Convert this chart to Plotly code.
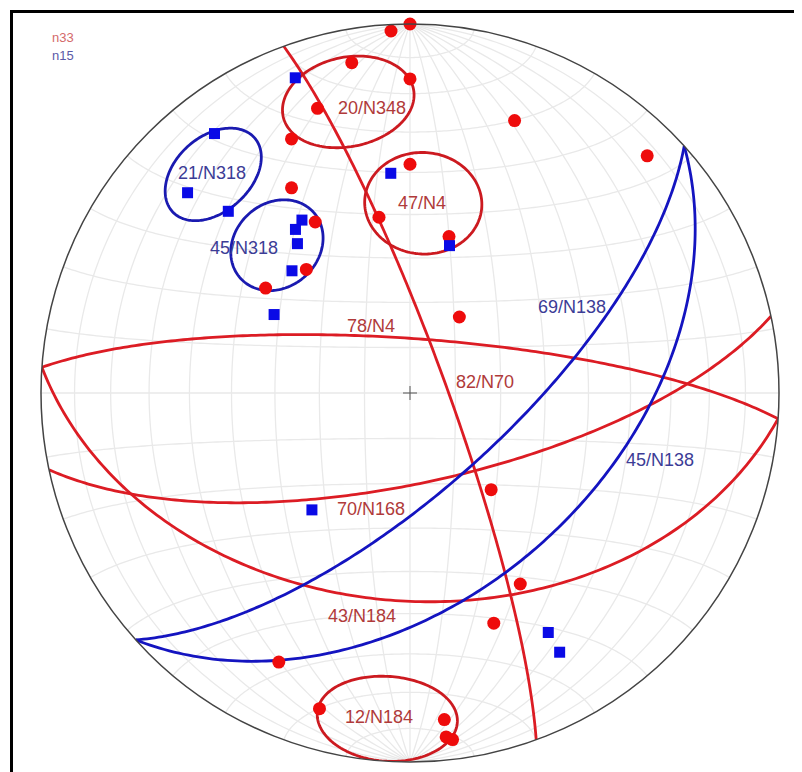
import numpy as np
import plotly.graph_objects as go

# poles (lower hemisphere), trend / plunge in degrees
red_trend = [0, 357, 350, 0, 342, 335, 330, 331, 320, 306, 0, 350, 14, 33, 21, 45,
             140, 150, 160, 206, 196, 174, 174, 173]
red_plunge = [0, 2, 10, 16, 20, 25, 36, 46, 54, 50, 38, 50, 54, 70, 22, 10,
              62, 40, 34, 20, 12, 12, 7, 6]
blue_trend = [340, 323, 312, 315, 328, 325, 323, 316, 300, 355, 15, 220, 150, 150]
blue_plunge = [10, 13, 20, 31, 44, 45, 48, 52, 55, 40, 56, 56, 26, 20]

# planes: dip / dip direction
red_planes_dip = [78, 82, 70, 43]
red_planes_dd = [4, 70, 168, 184]
blue_planes_dip = [69, 45]
blue_planes_dd = [138, 138]

# cones: axis plunge / trend, half angle
red_cone_plunge = [20, 47, 12]
red_cone_trend = [348, 4, 184]
red_cone_angle = [12, 12, 12]
blue_cone_plunge = [21, 45]
blue_cone_trend = [318, 318]
blue_cone_angle = [10, 10]

# page has an 8px body margin, so the figure is a bit smaller and positions are shifted
OFF = 8
W, H = 802 - OFF, 772 - OFF
CX, CY, R = 410 - OFF, 393 - OFF, 369


def px(x):
    return (x - OFF) / W


def py(y):
    return 1 - (y - OFF) / H


def vec(trend, plunge):
    t, p = np.radians(trend), np.radians(plunge)
    return np.array([np.cos(p) * np.cos(t), np.cos(p) * np.sin(t), np.sin(p)])


def project(v):
    # v: 3 x n (north, east, down) -> theta (deg), r (equal area, 0..1)
    n, e, d = v
    trend = np.degrees(np.arctan2(e, n)) % 360
    plunge = np.clip(np.degrees(np.arcsin(np.clip(d, -1, 1))), 0, 90)
    r = np.sqrt(2) * np.sin(np.radians(90 - plunge) / 2)
    return trend, r


def great_circle(dip, dd, n=181):
    s = vec(dd - 90, 0)[:, None]
    dv = vec(dd, dip)[:, None]
    a = np.radians(np.linspace(0, 180, n))
    return project(s * np.cos(a) + dv * np.sin(a))


def small_circle(trend, plunge, alpha, phi=(0, 360), n=181):
    ax = vec(trend, plunge)[:, None]
    u = vec(trend, plunge - 90)[:, None]
    w = vec(trend + 90, 0)[:, None]
    al = np.radians(alpha)
    f = np.radians(np.linspace(phi[0], phi[1], n))
    return project(ax * np.cos(al) + np.sin(al) * (u * np.cos(f) + w * np.sin(f)))


def joined(curves):
    th, rr = [], []
    for t, r in curves:
        th += list(t) + [None]
        rr += list(r) + [None]
    return th, rr


# Schmidt net, 10 degree spacing, poles at N and S
net = []
for dip in range(10, 91, 10):
    net.append(great_circle(dip, 90))
    if dip < 90:
        net.append(great_circle(dip, 270))
for a in range(10, 180, 10):
    net.append(small_circle(0, 0, a, phi=(90, 270)))
net_t, net_r = joined(net)

fig = go.Figure()
fig.add_trace(go.Scatterpolar(theta=net_t, r=net_r, mode='lines',
                              line=dict(color='#e9e9e9', width=1.3), hoverinfo='skip'))

# ticks on the primitive and centre cross
tick_t, tick_r = [], []
for az in (0, 90, 180, 270):
    tick_t += [az, az, None]
    tick_r += [1.0, 1.018, None]
fig.add_trace(go.Scatterpolar(theta=tick_t, r=tick_r, mode='lines', cliponaxis=False,
                              line=dict(color='#555555', width=1), hoverinfo='skip'))
fig.add_trace(go.Scatterpolar(theta=[0], r=[0], mode='markers',
                              marker=dict(symbol='cross-thin', size=10,
                                          line=dict(color='#555555', width=1)),
                              hoverinfo='skip'))

t, r = joined([great_circle(d, dd) for d, dd in zip(red_planes_dip, red_planes_dd)])
fig.add_trace(go.Scatterpolar(theta=t, r=r, mode='lines',
                              line=dict(color='#dc1c24', width=2.8), hoverinfo='skip'))
t, r = joined([small_circle(tr, pl, a) for tr, pl, a in
               zip(red_cone_trend, red_cone_plunge, red_cone_angle)])
fig.add_trace(go.Scatterpolar(theta=t, r=r, mode='lines',
                              line=dict(color='#cc1a20', width=2.8), hoverinfo='skip'))
t, r = joined([great_circle(d, dd) for d, dd in zip(blue_planes_dip, blue_planes_dd)])
fig.add_trace(go.Scatterpolar(theta=t, r=r, mode='lines',
                              line=dict(color='#1414c0', width=2.8), hoverinfo='skip'))
t, r = joined([small_circle(tr, pl, a) for tr, pl, a in
               zip(blue_cone_trend, blue_cone_plunge, blue_cone_angle)])
fig.add_trace(go.Scatterpolar(theta=t, r=r, mode='lines',
                              line=dict(color='#1a1ab0', width=2.8), hoverinfo='skip'))

rt, rr = project(np.array([vec(t_, p_) for t_, p_ in zip(red_trend, red_plunge)]).T)
fig.add_trace(go.Scatterpolar(theta=rt, r=rr, mode='markers', cliponaxis=False,
                              marker=dict(symbol='circle', size=13, color='#ee0c0c'),
                              name='n33'))
bt, br = project(np.array([vec(t_, p_) for t_, p_ in zip(blue_trend, blue_plunge)]).T)
fig.add_trace(go.Scatterpolar(theta=bt, r=br, mode='markers', cliponaxis=False,
                              marker=dict(symbol='square', size=11, color='#0a0ae6'),
                              name='n15'))

RED_TXT = '#b03a3a'
BLUE_TXT = '#3c3c96'
labels = [
    ('20/N348', 372, 108, RED_TXT), ('47/N4', 422, 203, RED_TXT),
    ('21/N318', 212, 173, BLUE_TXT), ('45/N318', 244, 248, BLUE_TXT),
    ('78/N4', 371, 326, RED_TXT), ('82/N70', 485, 382, RED_TXT),
    ('69/N138', 572, 307, BLUE_TXT), ('45/N138', 660, 460, BLUE_TXT),
    ('70/N168', 371, 509, RED_TXT), ('43/N184', 362, 616, RED_TXT),
    ('12/N184', 379, 717, RED_TXT),
]
ann = [dict(text=s, x=px(x), y=py(y), xref='paper', yref='paper', showarrow=False,
            xanchor='center', yanchor='middle', font=dict(size=18, color=c))
       for s, x, y, c in labels]
ann += [dict(text='n33', x=px(50), y=py(38), xref='paper', yref='paper', showarrow=False,
             xanchor='left', yanchor='middle', font=dict(size=13, color='#d46a6a')),
        dict(text='n15', x=px(50), y=py(56), xref='paper', yref='paper', showarrow=False,
             xanchor='left', yanchor='middle', font=dict(size=13, color='#5a5aa8'))]

frame = [dict(type='line', xref='paper', yref='paper', x0=px(11.5), x1=px(11.5), y0=0, y1=py(10),
              line=dict(color='black', width=3)),
         dict(type='line', xref='paper', yref='paper', x0=px(10), x1=1, y0=py(11.5), y1=py(11.5),
              line=dict(color='black', width=3))]

fig.update_layout(
    width=W, height=H,
    margin=dict(l=0, r=0, t=0, b=0),
    paper_bgcolor='white',
    font=dict(family='Arial, Liberation Sans, sans-serif'),
    showlegend=False,
    annotations=ann,
    shapes=frame,
    polar=dict(
        domain=dict(x=[(CX - R) / W, (CX + R) / W], y=[1 - (CY + R) / H, 1 - (CY - R) / H]),
        bgcolor='white',
        radialaxis=dict(range=[0, 1], visible=False),
        angularaxis=dict(rotation=90, direction='clockwise', showgrid=False,
                         showticklabels=False, ticks='', showline=True,
                         linecolor='#444444', linewidth=1.5),
    ),
)

fig.write_html("out.html")
